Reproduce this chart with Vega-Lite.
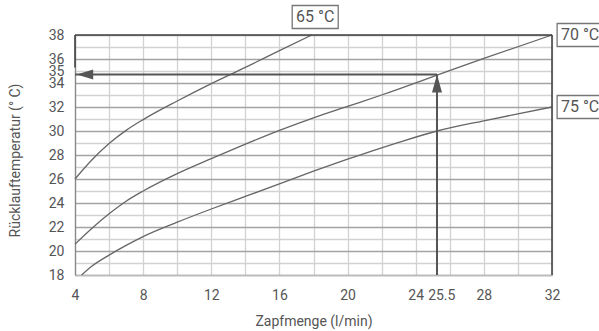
{
  "$schema": "https://vega.github.io/schema/vega-lite/v6.json",
  "width": 477,
  "height": 240,
  "autosize": {"type": "none"},
  "padding": {"left": 75, "top": 35, "right": 47, "bottom": 56},
  "background": "white",
  "config": {
    "view": {"stroke": null},
    "font": "Roboto",
    "axis": {"labelFont": "Roboto", "titleFont": "Roboto", "labelColor": "#555", "titleColor": "#555", "titleFontWeight": "normal", "labelFontSize": 14, "titleFontSize": 14}
  },
  "datasets": {
    "curves": [
      {"series": "65", "x": 4, "y": 26.0},
      {"series": "65", "x": 5, "y": 27.6},
      {"series": "65", "x": 6, "y": 28.95},
      {"series": "65", "x": 7, "y": 30.05},
      {"series": "65", "x": 8, "y": 30.95},
      {"series": "65", "x": 10, "y": 32.5},
      {"series": "65", "x": 12, "y": 33.95},
      {"series": "65", "x": 14, "y": 35.3},
      {"series": "65", "x": 16, "y": 36.7},
      {"series": "65", "x": 17.9, "y": 38.0},
      {"series": "70", "x": 4, "y": 20.57},
      {"series": "70", "x": 5, "y": 21.9},
      {"series": "70", "x": 6, "y": 23.1},
      {"series": "70", "x": 7, "y": 24.15},
      {"series": "70", "x": 8, "y": 25.0},
      {"series": "70", "x": 10, "y": 26.45},
      {"series": "70", "x": 12, "y": 27.7},
      {"series": "70", "x": 14, "y": 28.9},
      {"series": "70", "x": 16, "y": 30.05},
      {"series": "70", "x": 18, "y": 31.1},
      {"series": "70", "x": 20, "y": 32.05},
      {"series": "70", "x": 22, "y": 33.0},
      {"series": "70", "x": 25.25, "y": 34.65},
      {"series": "70", "x": 28, "y": 36.05},
      {"series": "70", "x": 32, "y": 38.0},
      {"series": "75", "x": 4.39, "y": 18.0},
      {"series": "75", "x": 5, "y": 18.75},
      {"series": "75", "x": 6, "y": 19.66},
      {"series": "75", "x": 7, "y": 20.47},
      {"series": "75", "x": 8, "y": 21.2},
      {"series": "75", "x": 10, "y": 22.4},
      {"series": "75", "x": 12, "y": 23.5},
      {"series": "75", "x": 14, "y": 24.55},
      {"series": "75", "x": 16, "y": 25.6},
      {"series": "75", "x": 18, "y": 26.65},
      {"series": "75", "x": 20, "y": 27.65},
      {"series": "75", "x": 22, "y": 28.6},
      {"series": "75", "x": 23, "y": 29.05},
      {"series": "75", "x": 25.25, "y": 30.0},
      {"series": "75", "x": 28, "y": 30.85},
      {"series": "75", "x": 32, "y": 32.0}
    ],
    "labels": [
      {"label": "65 °C", "x": 18.1, "y": 39.5},
      {"label": "70 °C", "x": 33.65, "y": 38.0},
      {"label": "75 °C", "x": 33.65, "y": 32.0}
    ],
    "frame": [
      {"part": "top", "x": 4, "y": 38, "x2": 32, "y2": 38},
      {"part": "right", "x": 32, "y": 18, "x2": 32, "y2": 38},
      {"part": "left", "x": 4, "y": 35.3, "x2": 4, "y2": 38}
    ],
    "arrows": [
      {"part": "horizontal", "x": 4, "y": 34.7, "x2": 25.25, "y2": 34.7},
      {"part": "vertical", "x": 25.25, "y": 18, "x2": 25.25, "y2": 34.7}
    ],
    "heads": [
      {"dir": "left", "x": 4, "y": 34.7},
      {"dir": "up", "x": 25.25, "y": 34.7}
    ]
  },
  "encoding": {
    "x": {
      "field": "x", "type": "quantitative",
      "scale": {"domain": [4, 32], "nice": false, "zero": false},
      "axis": {
        "title": "Zapfmenge (l/min)",
        "values": [4, 6, 8, 10, 12, 14, 16, 18, 20, 22, 24, 25.5, 26, 28, 30, 32],
        "format": ".1~f",
        "labelExpr": "datum.value % 4 == 0 || datum.value == 25.5 ? datum.label : ''",
        "labelOverlap": false,
        "labelFlush": false,
        "ticks": false,
        "tickSize": 0,
        "labelPadding": 13,
        "domainColor": "#bbb",
        "domainWidth": 1.5,
        "grid": true,
        "gridColor": "#d2d2d2",
        "gridWidth": 1.3,
        "gridOpacity": {"condition": {"test": "datum.value == 25.5", "value": 0}, "value": 1},
        "titleY": 46,
        "titleBaseline": "middle"
      }
    },
    "y": {
      "field": "y", "type": "quantitative",
      "scale": {"domain": [18, 38], "nice": false, "zero": false},
      "axis": {
        "title": "Rücklauftemperatur (° C)",
        "values": [18, 19, 20, 21, 22, 23, 24, 25, 26, 27, 28, 29, 30, 31, 32, 33, 34, 35, 36, 37, 38],
        "labelExpr": "datum.value % 2 == 0 || datum.value == 35 ? datum.label : ''",
        "labelOverlap": false,
        "labelFlush": false,
        "ticks": false,
        "tickSize": 0,
        "labelPadding": 11,
        "domainColor": "#888",
        "domainWidth": 1.3,
        "grid": true,
        "gridWidth": 1.3,
        "gridColor": {"condition": {"test": "datum.value % 2 == 0", "value": "#a3a3a3"}, "value": "#d2d2d2"},
        "titleX": -60,
        "titleY": 125,
        "titleAngle": -90,
        "titleBaseline": "middle",
        "titleAlign": "center"
      }
    }
  },
  "layer": [
    {
      "data": {"name": "curves"},
      "mark": {"type": "line", "color": "#666", "strokeWidth": 1.3, "interpolate": "monotone"},
      "encoding": {"detail": {"field": "series", "type": "nominal"}}
    },
    {
      "data": {"name": "frame"},
      "mark": {"type": "rule", "color": "#444", "strokeWidth": 1.6},
      "encoding": {"x2": {"field": "x2"}, "y2": {"field": "y2"}}
    },
    {
      "data": {"name": "arrows"},
      "mark": {"type": "rule", "color": "#555", "strokeWidth": 2},
      "encoding": {"x2": {"field": "x2"}, "y2": {"field": "y2"}}
    },
    {
      "data": {"name": "heads"},
      "mark": {"type": "point", "size": 300, "filled": true, "color": "#555", "opacity": 1},
      "encoding": {
        "shape": {"field": "dir", "type": "nominal", "legend": null,
          "scale": {"domain": ["left", "up"], "range": ["M0.2,0L2.1,-0.58L2.1,0.58Z", "M0,0L-0.58,2.08L0.58,2.08Z"]}}
      }
    },
    {
      "data": {"name": "labels"},
      "mark": {"type": "point", "shape": "M-1,-0.5L1,-0.5L1,0.5L-1,0.5Z", "size": 2116, "filled": true, "fill": "white", "stroke": "#777", "strokeWidth": 1.3, "opacity": 1}
    },
    {
      "data": {"name": "labels"},
      "mark": {"type": "text", "font": "Roboto", "fontSize": 16, "color": "#555", "align": "center", "baseline": "middle"},
      "encoding": {"text": {"field": "label", "type": "nominal"}}
    }
  ]
}
